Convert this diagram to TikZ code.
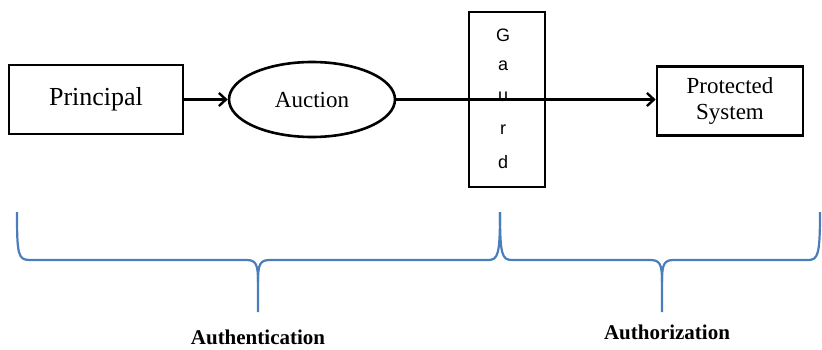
\documentclass[tikz,border=0pt]{standalone}
\usepackage{fontspec}
\setmainfont{Liberation Serif}
\newfontfamily\guardfont{Liberation Sans}
\usetikzlibrary{shapes.geometric,arrows.meta}
\definecolor{bracecol}{RGB}{74,126,187}
\begin{document}
\begin{tikzpicture}[x=1pt,y=-1pt,
  box/.style={draw,line width=2.6pt,inner sep=0pt},
  link/.style={line width=2.4pt,-{Straight Barb[length=7pt,width=13pt,line width=2.4pt]}},
  brace/.style={draw=bracecol,line width=2.2pt,line join=round},
  caption/.style={font=\bfseries\fontsize{21}{23}\selectfont,inner sep=0pt}]
\useasboundingbox (0,0) rectangle (822,349);

% boxes and the ellipse
\node[box,minimum width=174pt,minimum height=69pt,font=\fontsize{26}{28}\selectfont] (principal) at (96,99.5) {Principal};
\node[box,ellipse,minimum width=166pt,minimum height=75pt,font=\fontsize{23}{25}\selectfont] (auction) at (312,99.5) {Auction};
\node[box,minimum width=76pt,minimum height=175pt] (guard) at (507,99.5) {};
\node[box,minimum width=146pt,minimum height=69pt,align=center,font=\fontsize{23}{26}\selectfont] (prot) at (730,101) {Protected\\System};

% letters of the guard
\foreach \ch/\yy in {G/35,a/66,u/97,r/130,d/162}
  \node[font=\guardfont\fontsize{18}{20}\selectfont] at (503,\yy) {\ch};

% connectors
\draw[link] (principal.east) -- (auction.west);
\draw[link] (auction.east) -- (prot.west |- auction.east);

% braces
\coordinate (b0) at (17,212);
\coordinate (b1) at (500,212);
\coordinate (b2) at (820,212);
\coordinate (t1) at (258,312);
\coordinate (t2) at (662,312);
\draw[brace] (b0) .. controls (17,255) and (18,260) .. (30,260) -- (246,260)
  .. controls (256,260) and (258,264) .. (258,282) -- (t1);
\draw[brace] (258,282) .. controls (258,264) and (260,260) .. (270,260) -- (488,260)
  .. controls (498,260) and (500,255) .. (b1);
\draw[brace] (b1) .. controls (500,255) and (502,260) .. (512,260) -- (650,260)
  .. controls (660,260) and (662,264) .. (662,282) -- (t2);
\draw[brace] (662,282) .. controls (662,264) and (664,260) .. (674,260) -- (808,260)
  .. controls (818,260) and (820,255) .. (b2);

% labels
\node[caption] (authn) at (258,337) {Authentication};
\node[caption] (authz) at (667,332) {Authorization};
\end{tikzpicture}
\end{document}
